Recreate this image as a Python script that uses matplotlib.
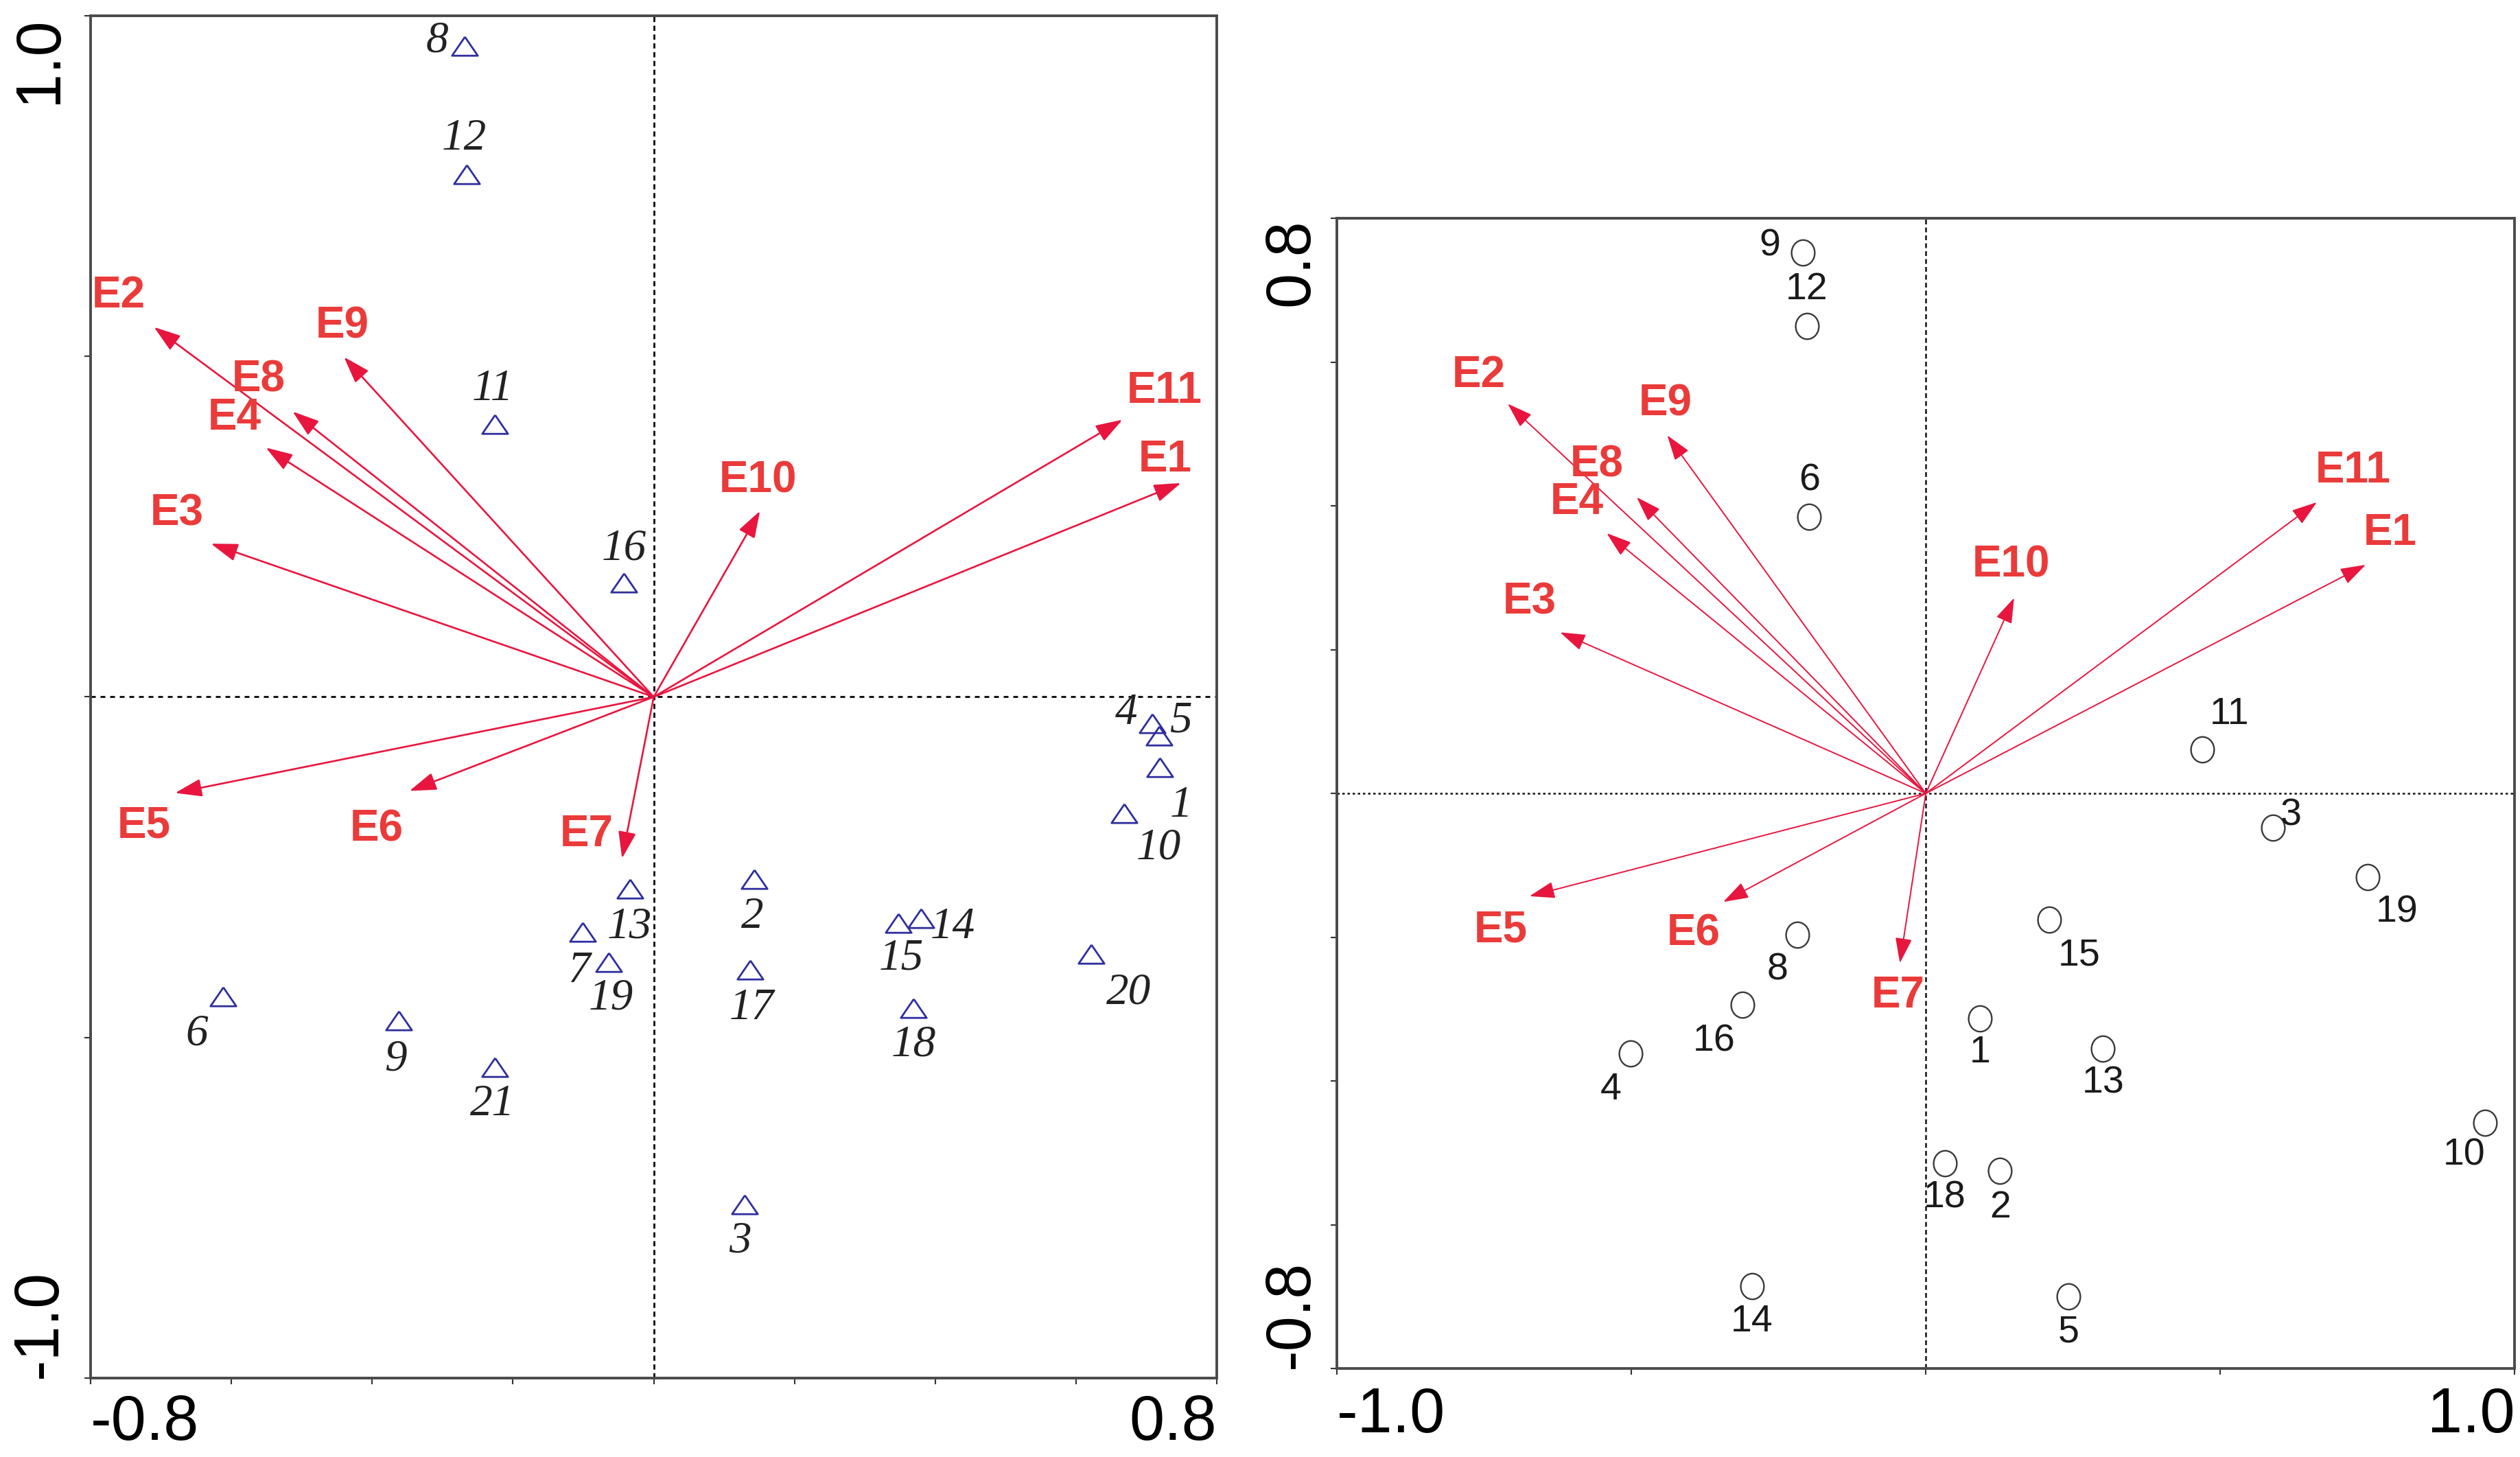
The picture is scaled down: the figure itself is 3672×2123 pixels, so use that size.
import numpy as np
import matplotlib
matplotlib.use('Agg')
import matplotlib.pyplot as plt
from matplotlib import font_manager
from matplotlib.path import Path

# ---- data ----
env_names = ['E1', 'E2', 'E3', 'E4', 'E5', 'E6', 'E7', 'E8', 'E9', 'E10', 'E11']

# left plot: arrow tips and sites (triangles)
left_env_x = [0.749, -0.710, -0.629, -0.551, -0.680, -0.347, -0.045, -0.513, -0.440, 0.151, 0.666]
left_env_y = [0.314, 0.543, 0.225, 0.366, -0.141, -0.138, -0.237, 0.419, 0.499, 0.273, 0.407]

left_site_ids = ['1', '2', '3', '4', '5', '6', '7', '8', '9', '10', '11',
                 '12', '13', '14', '15', '16', '17', '18', '19', '20', '21']
left_site_x = [0.719, 0.143, 0.129, 0.708, 0.718, -0.612, -0.101, -0.269, -0.362, 0.668, -0.226,
               -0.266, -0.034, 0.380, 0.348, -0.042, 0.137, 0.369, -0.064, 0.621, -0.226]
left_site_y = [-0.103, -0.268, -0.745, -0.039, -0.057, -0.440, -0.345, 0.956, -0.475, -0.171, 0.400,
               0.767, -0.282, -0.325, -0.332, 0.168, -0.401, -0.457, -0.389, -0.377, -0.544]

# right plot: arrow tips and samples (circles)
right_env_x = [0.747, -0.710, -0.621, -0.542, -0.673, -0.344, -0.044, -0.491, -0.439, 0.150, 0.664]
right_env_y = [0.318, 0.542, 0.224, 0.362, -0.143, -0.151, -0.236, 0.412, 0.498, 0.272, 0.405]

right_site_ids = ['1', '2', '3', '4', '5', '6', '8', '9', '10', '11',
                  '12', '13', '14', '15', '16', '18', '19']
right_site_x = [0.092, 0.126, 0.589, -0.501, 0.242, -0.198, -0.218, -0.209, 0.950, 0.470,
                -0.202, 0.300, -0.295, 0.210, -0.311, 0.032, 0.750]
right_site_y = [-0.313, -0.525, -0.048, -0.362, -0.700, 0.385, -0.197, 0.752, -0.458, 0.061,
                0.650, -0.355, -0.685, -0.176, -0.294, -0.515, -0.116]

# ---- label offsets (pixels, +x right, +y down) ----
left_env_off = {'E1': (-23, -34), 'E2': (-52, -46), 'E3': (-50, -44), 'E4': (-46, -43),
                'E5': (-45, 48), 'E6': (-48, 56), 'E7': (-52, -35), 'E8': (-50, -46),
                'E9': (-3, -45), 'E10': (-3, -44), 'E11': (61, -42)}
right_env_off = {'E1': (36, -46), 'E2': (-42, -41), 'E3': (-45, -44), 'E4': (-43, -45),
                 'E5': (-42, 50), 'E6': (-43, 46), 'E7': (-3, 48), 'E8': (-58, -47),
                 'E9': (-3, -46), 'E10': (-4, -48), 'E11': (53, -46)}
left_site_off = {'1': (31, 57), '2': (-3, 55), '3': (-6, 54), '4': (-38, -15), '5': (32, -21),
                 '6': (-38, 55), '7': (-5, 57), '8': (-40, -7), '9': (-5, 57), '10': (51, 51),
                 '11': (-3, -51), '12': (-3, -52), '13': (0, 55), '14': (46, 13), '15': (4, 52),
                 '16': (0, -49), '17': (2, 56), '18': (0, 54), '19': (3, 53), '20': (55, 57),
                 '21': (-3, 54)}
right_site_off = {'1': (0, 50), '2': (0, 54), '3': (27, -18), '4': (-29, 53), '5': (0, 52),
                  '6': (0, -52), '8': (-29, 51), '9': (-48, -10), '10': (-31, 48), '11': (39, -51),
                  '12': (0, -53), '13': (1, 51), '14': (0, 52), '15': (43, 52), '16': (-42, 53),
                  '18': (0, 50), '19': (43, 52)}

names = {f.name for f in font_manager.fontManager.ttflist}
narrow = 'Liberation Sans Narrow' if 'Liberation Sans Narrow' in names else 'Liberation Sans'

RED_LINE = '#E8163F'
RED_TEXT = '#EA3B3A'
PX = 0.72  # points per pixel at dpi 100

fig = plt.figure(figsize=(36.73, 21.23), dpi=100)
ax1 = fig.add_axes([0.03594, 0.05417, 0.4468, 0.9350])
ax2 = fig.add_axes([0.5304, 0.06076, 0.4672, 0.7894])

tri = [(0, 0.73), (-1, -0.73), (1, -0.73), (0, 0.73)]
circ = Path.unit_circle()
ell = Path(circ.vertices * [0.9, 1.0], circ.codes)


def style_axes(ax, xlim, ylim, xticks, yticks, xlabels, ylabels, pad_x, pad_y, zlw, hd, vd):
    ax.set_xlim(xlim)
    ax.set_ylim(ylim)
    ax.axhline(0, color='#111111', lw=zlw, dashes=hd, zorder=1)
    ax.axvline(0, color='#111111', lw=zlw, dashes=vd, zorder=1)
    for s in ax.spines.values():
        s.set_linewidth(2.8)
        s.set_color('#4a4a4a')
    ax.set_xticks(xticks, xlabels)
    ax.set_yticks(yticks, ylabels)
    ax.tick_params(direction='out', length=6.5, width=1.5, color='#333333',
                   labelsize=66, labelcolor='black')
    ax.tick_params(axis='x', pad=pad_x)
    ax.tick_params(axis='y', pad=pad_y, labelrotation=90)
    for t in ax.get_xticklabels() + ax.get_yticklabels():
        t.set_family(narrow)
    xl = ax.get_xticklabels()
    xl[0].set_ha('left')
    xl[-1].set_ha('right')
    yl = ax.get_yticklabels()
    yl[0].set_va('bottom')
    yl[-1].set_va('top')


def draw_arrows(ax, ex, ey, offs, lw, ms):
    for name, x, y in zip(env_names, ex, ey):
        ax.annotate('', xy=(x, y), xytext=(0, 0),
                    arrowprops=dict(arrowstyle='-|>,head_length=0.6,head_width=0.2',
                                    color=RED_LINE, lw=lw, mutation_scale=ms,
                                    shrinkA=0, shrinkB=0), zorder=3)
        dx, dy = offs[name]
        ax.annotate(name, xy=(x, y), xytext=(dx * PX, -dy * PX), textcoords='offset points',
                    ha='center', va='center', fontsize=46, fontweight='bold',
                    family='Liberation Sans', color=RED_TEXT, zorder=4)


# left biplot
style_axes(ax1, (-0.8, 0.8), (-1.0, 1.0),
           np.arange(-0.8, 0.81, 0.2), [-1.0, -0.5, 0.0, 0.5, 1.0],
           ['-0.8', '', '', '', '', '', '', '', '0.8'], ['-1.0', '', '', '', '1.0'], 10, 16,
           2.1, (2.4, 2.4), (2.6, 1.8))
draw_arrows(ax1, left_env_x, left_env_y, left_env_off, 1.9, 40)
ax1.plot(left_site_x, left_site_y, ls='none', marker=tri, ms=27, mfc='none',
         mec='#2E2E9E', mew=2.0, zorder=5)
for sid, x, y in zip(left_site_ids, left_site_x, left_site_y):
    dx, dy = left_site_off[sid]
    ax1.annotate(sid, xy=(x, y), xytext=(dx * PX, -dy * PX), textcoords='offset points',
                 ha='center', va='center', fontsize=47, style='italic',
                 family='Liberation Serif', color='#222222', zorder=6)

# right biplot
style_axes(ax2, (-1.0, 1.0), (-0.8, 0.8),
           [-1.0, -0.5, 0.0, 0.5, 1.0], np.arange(-0.8, 0.81, 0.2),
           ['-1.0', '', '', '', '1.0'], ['-0.8', '', '', '', '', '', '', '', '0.8'], 12, 10,
           1.8, (1.4, 1.6), (2.8, 1.8))
draw_arrows(ax2, right_env_x, right_env_y, right_env_off, 1.4, 38)
ax2.plot(right_site_x, right_site_y, ls='none', marker=ell, ms=27, mfc='none',
         mec='#3a3a3a', mew=1.7, zorder=5)
for sid, x, y in zip(right_site_ids, right_site_x, right_site_y):
    dx, dy = right_site_off[sid]
    ax2.annotate(sid, xy=(x, y), xytext=(dx * PX, -dy * PX), textcoords='offset points',
                 ha='center', va='center', fontsize=40, family=narrow,
                 color='#1a1a1a', zorder=6)

fig.savefig('out.png', dpi=100)
